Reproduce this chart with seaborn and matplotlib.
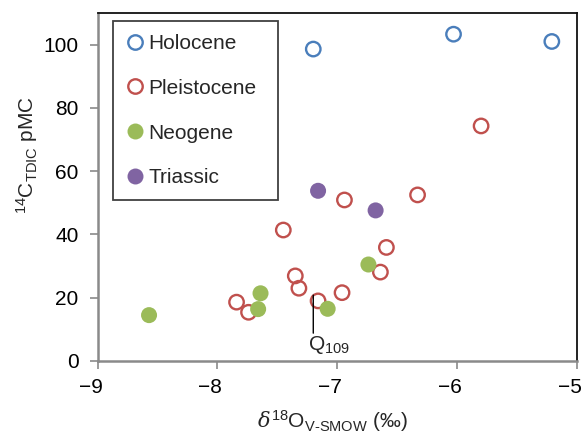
import matplotlib
matplotlib.use("Agg")
import matplotlib.pyplot as plt
from matplotlib.lines import Line2D
import matplotlib.transforms as mtransforms
import seaborn as sns
import pandas as pd

# ---- data ----
holocene_x = [-7.20, -6.03, -5.21]
holocene_y = [98.6, 103.3, 101.0]
pleistocene_x = [-5.80, -6.33, -6.94, -7.45, -6.59, -6.64, -7.35, -7.32, -6.96, -7.16, -7.84, -7.74]
pleistocene_y = [74.3, 52.5, 50.9, 41.4, 35.9, 28.1, 26.9, 23.0, 21.6, 19.0, 18.6, 15.4]
neogene_x = [-8.57, -7.64, -7.66, -7.08, -6.74]
neogene_y = [14.5, 21.4, 16.4, 16.5, 30.5]
triassic_x = [-7.16, -6.68]
triassic_y = [53.8, 47.6]

series_names = ["Holocene", "Pleistocene", "Neogene", "Triassic"]
series_colors = ["#4A7EBB", "#C0504D", "#9BBB59", "#8064A2"]
series_open = [True, True, False, False]

x_ticks = [-9, -8, -7, -6, -5]
x_tick_labels = ["\u22129", "\u22128", "\u22127", "\u22126", "\u22125"]
y_ticks = [0, 20, 40, 60, 80, 100]
y_tick_labels = ["0", "20", "40", "60", "80", "100"]

annot_label = "Q$_{109}$"
annot_x, annot_y = -7.20, 20.8

# ---- plot ----
sns.set_theme(style="white")
plt.rcParams["font.family"] = ["Liberation Sans", "DejaVu Sans"]
plt.rcParams["mathtext.fontset"] = "custom"
plt.rcParams["mathtext.rm"] = "Liberation Sans"
plt.rcParams["mathtext.it"] = "DejaVu Serif:italic"

FS = 15

fig = plt.figure(figsize=(5.83, 4.38), dpi=100)
ax = fig.add_axes([97.5 / 583, 1 - 361 / 438, 479.5 / 583, 348 / 438])

xs = [holocene_x, pleistocene_x, neogene_x, triassic_x]
ys = [holocene_y, pleistocene_y, neogene_y, triassic_y]
frames = []
for name, x, y in zip(series_names, xs, ys):
    frames.append(pd.DataFrame({"x": x, "y": y, "group": name}))
df = pd.concat(frames, ignore_index=True)

handles = []
for name, col, op in zip(series_names, series_colors, series_open):
    sub = df[df["group"] == name]
    if op:
        ax.scatter(sub["x"], sub["y"], s=108, facecolors="none",
                   edgecolors=col, linewidths=1.7, zorder=3)
        handles.append(Line2D([], [], marker="o", linestyle="none", markersize=10.4,
                              markerfacecolor="none", markeredgecolor=col,
                              markeredgewidth=1.7, label=name))
    else:
        sns.scatterplot(data=sub, x="x", y="y", ax=ax, color=col, s=133,
                        edgecolor="none", linewidth=0, zorder=3, legend=False)
        handles.append(Line2D([], [], marker="o", linestyle="none", markersize=11.5,
                              markerfacecolor=col, markeredgecolor="none", label=name))

ax.set_xlim(-9, -5)
ax.set_ylim(0, 110)
ax.set_xticks(x_ticks)
ax.set_xticklabels(x_tick_labels)
ax.set_yticks(y_ticks)
ax.set_yticklabels(y_tick_labels)
ax.tick_params(axis="both", direction="out", length=5.5, width=1.2, color="#8a8a8a",
               labelsize=FS, labelcolor="black", bottom=True, left=True)
ax.tick_params(axis="x", pad=6.5)
ax.tick_params(axis="y", pad=8)
shift = mtransforms.ScaledTranslation(-7 / 100, 0, fig.dpi_scale_trans)
for lab in ax.get_xticklabels():
    lab.set_transform(lab.get_transform() + shift)

for side in ["left", "bottom"]:
    ax.spines[side].set_color("#8a8a8a")
    ax.spines[side].set_linewidth(1.8)
for side in ["top", "right"]:
    ax.spines[side].set_color("#111111")
    ax.spines[side].set_linewidth(1.3)
    ax.spines[side].set_visible(True)

ax.set_xlabel(r"$\delta^{18}$O$_{\rm V\text{-}SMOW}$" + " (\u2030)", fontsize=FS)
ax.set_ylabel(r"$^{14}$C$_{\rm TDIC}$ pMC", fontsize=FS)
ax.xaxis.set_label_coords(0.49, -0.135)
ax.yaxis.set_label_coords(-0.119, 0.592)

ax.annotate("", xy=(annot_x, annot_y), xytext=(annot_x, 8.8),
            arrowprops=dict(arrowstyle="-", color="black", lw=1.0, shrinkA=0, shrinkB=0))
ax.text(-7.07, 3.4, annot_label, fontsize=FS, ha="center", va="baseline")

leg = ax.legend(handles=handles, loc="upper left",
                bbox_to_anchor=(0.0333, 0.977 - 0.6, 0.344, 0.6), mode="expand",
                frameon=True, fancybox=False, fontsize=FS, handletextpad=0.28,
                handlelength=0.78, labelspacing=1.24, borderpad=0.62, borderaxespad=0)
leg.get_frame().set_edgecolor("#111111")
leg.get_frame().set_linewidth(1.3)

fig.savefig("out.png", dpi=100)
